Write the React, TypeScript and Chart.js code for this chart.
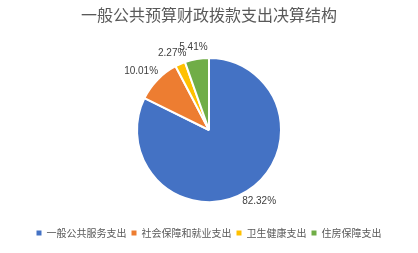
import React, { useEffect, useRef } from "react";
import { Chart, registerables } from "chart.js";

Chart.register(...registerables);

const categories = ["一般公共服务支出", "社会保障和就业支出", "卫生健康支出", "住房保障支出"];
const shares = [82.32, 10.01, 2.27, 5.41];
const colors = ["#4472C4", "#ED7D31", "#FFC000", "#70AD47"];
const titleText = "一般公共预算财政拨款支出决算结构";

const labelPlugin = {
  id: "outsideLabels",
  afterDatasetsDraw(chart: any) {
    const ctx = chart.ctx;
    const meta = chart.getDatasetMeta(0);
    ctx.save();
    ctx.font = "10px 'Liberation Sans', Arial, sans-serif";
    ctx.fillStyle = "#404040";
    ctx.textAlign = "center";
    ctx.textBaseline = "middle";
    meta.data.forEach((arc: any, i: number) => {
      const p = arc.getProps(["x", "y", "startAngle", "endAngle", "outerRadius"], true);
      const mid = (p.startAngle + p.endAngle) / 2;
      const dx = Math.cos(mid);
      const dy = Math.sin(mid);
      const text = shares[i].toFixed(2) + "%";
      const w = ctx.measureText(text).width;
      const h = 12;
      const r = p.outerRadius + 6;
      const x = p.x + dx * r + (dx * w) / 2;
      const y = p.y + dy * r + (dy * h) / 2;
      ctx.fillText(text, x, y);
    });
    ctx.restore();
  },
};

export default function App() {
  const ref = useRef<HTMLCanvasElement | null>(null);
  useEffect(() => {
    if (!ref.current) return;
    const chart = new Chart(ref.current, {
      type: "pie",
      data: {
        labels: categories,
        datasets: [
          {
            data: shares,
            backgroundColor: colors,
            borderColor: "#ffffff",
            borderWidth: 2,
            radius: 72,
          } as any,
        ],
      },
      options: {
        animation: false,
        responsive: true,
        maintainAspectRatio: false,
        layout: { padding: { bottom: 5 } },
        plugins: {
          title: {
            display: true,
            text: titleText,
            color: "#595959",
            font: { family: "'Noto Sans CJK SC', sans-serif", size: 16, weight: "normal" as any },
            padding: { top: 5, bottom: 12.8 },
          },
          legend: {
            position: "bottom",
            labels: {
              boxWidth: 5,
              boxHeight: 5,
              padding: 5,
              color: "#595959",
              font: { family: "'Noto Sans CJK SC', sans-serif", size: 10 },
              generateLabels: (chart: any) =>
                categories.map((c, i) => ({
                  text: c,
                  fillStyle: colors[i],
                  strokeStyle: colors[i],
                  lineWidth: 0,
                  fontColor: "#595959",
                  hidden: false,
                  index: i,
                })),
            },
          },
          tooltip: { enabled: false },
        },
      },
      plugins: [labelPlugin],
    });
    return () => chart.destroy();
  }, []);
  return (
    <div style={{ position: "fixed", left: 0, top: 0, width: 418, height: 253, background: "#fff" }}>
      <canvas ref={ref} />
    </div>
  );
}
